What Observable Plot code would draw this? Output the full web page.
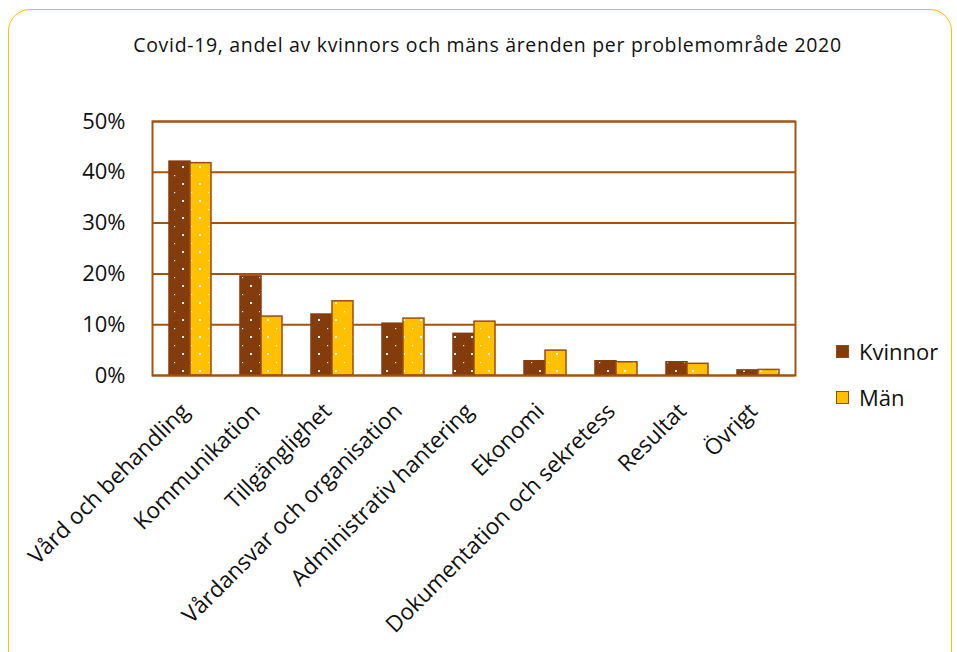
<!DOCTYPE html>
<html>
<head>
<meta charset="utf-8">
<script src="https://cdn.jsdelivr.net/npm/d3@7"></script>
<script src="https://cdn.jsdelivr.net/npm/@observablehq/plot@0.6"></script>
<style>
  html, body { margin: 0; padding: 0; background: #fff; }
  #wrap { position: relative; width: 957px; height: 652px; overflow: hidden; font-family: "Open Sans", sans-serif; }
  #border { position: absolute; left: 8px; top: 9px; width: 944px; height: 700px; border: 1.5px solid #FFC000; border-radius: 22px; box-sizing: border-box; }
  #title { position: absolute; left: 0; top: 31px; width: 975px; text-align: center; font-size: 19.5px; letter-spacing: 0.68px; color: #111; }
  #chart { position: absolute; left: 0; top: 0; }
  .leg { position: absolute; left: 836px; font-size: 22px; color: #111; display: flex; align-items: center; }
  .sw { width: 13px; height: 13px; box-sizing: border-box; margin-right: 10px; border: 1.5px solid #9A4A14; }
</style>
</head>
<body>
<div id="wrap">
  <div id="border"></div>
  <div id="chart"></div>
  <div id="title">Covid-19, andel av kvinnors och mäns ärenden per problemområde 2020</div>
  <div class="leg" style="top:336px"><div class="sw" style="background:#843C0C"></div>Kvinnor</div>
  <div class="leg" style="top:382px"><div class="sw" style="background:#FFC000"></div>Män</div>
</div>
<script>
const categories = ["Vård och behandling", "Kommunikation", "Tillgänglighet", "Vårdansvar och organisation", "Administrativ hantering", "Ekonomi", "Dokumentation och sekretess", "Resultat", "Övrigt"];
const kvinnor = [42.1, 19.5, 12.0, 10.2, 8.2, 2.8, 2.8, 2.6, 1.0];
const man = [41.8, 11.6, 14.6, 11.2, 10.6, 4.9, 2.6, 2.3, 1.1];
const yTicks = [0, 10, 20, 30, 40, 50];

const dataK = categories.map((c, i) => ({cat: c, value: kvinnor[i]}));
const dataM = categories.map((c, i) => ({cat: c, value: man[i]}));

const brown = "#843C0C";
const gold = "#FFC000";
const line = "#A5520F";

const chart = Plot.plot({
  width: 957,
  height: 652,
  marginLeft: 152,
  marginRight: 162,
  marginTop: 121,
  marginBottom: 277,
  style: {fontFamily: "Open Sans, sans-serif", fontSize: "22.5px", color: "#111", background: "transparent"},
  x: {domain: categories, paddingInner: 0.41, paddingOuter: 0.205, label: null, tickSize: 0, tickRotate: -45, tickPadding: 32},
  y: {domain: [0, 50], ticks: yTicks, label: null, tickSize: 0, tickPadding: 27, tickFormat: d => d + "%"},
  marks: [
    Plot.ruleY(yTicks, {stroke: line, strokeWidth: 2}),
    Plot.barY(dataK, {x: "cat", y: "value", fill: "url(#patK)", stroke: brown, strokeWidth: 1.5, insetRight: 21}),
    Plot.barY(dataM, {x: "cat", y: "value", fill: "url(#patM)", stroke: "#9A4A14", strokeWidth: 1.5, insetLeft: 21}),
    Plot.frame({stroke: line, strokeWidth: 2, fill: "none"})
  ]
});

// y tick labels slightly smaller
chart.querySelectorAll("g[aria-label='y-axis tick label'] text").forEach(t => t.setAttribute("font-size", "22"));
// nudge x tick labels left a little
chart.querySelectorAll("g[aria-label='x-axis tick label']").forEach(g => {
  const wrapG = document.createElementNS("http://www.w3.org/2000/svg", "g");
  wrapG.setAttribute("transform", "translate(-5,0)");
  g.parentNode.insertBefore(wrapG, g);
  wrapG.appendChild(g);
});

// patterns for dotted bar fills
const ns = "http://www.w3.org/2000/svg";
const defs = document.createElementNS(ns, "defs");
defs.innerHTML = `
<pattern id="patK" patternUnits="userSpaceOnUse" width="17" height="17" x="0" y="0">
  <rect width="17" height="17" fill="${brown}"/>
  <rect x="4" y="5" width="1.2" height="1.2" fill="#fff"/>
  <rect x="12" y="13" width="2" height="2" fill="#fff"/>
</pattern>
<pattern id="patM" patternUnits="userSpaceOnUse" width="17" height="17" x="0" y="0">
  <rect width="17" height="17" fill="${gold}"/>
  <rect x="4" y="5" width="1.2" height="1.2" fill="#fff"/>
  <rect x="12" y="13" width="2" height="2" fill="#fff"/>
</pattern>`;
chart.insertBefore(defs, chart.firstChild);
document.getElementById("chart").appendChild(chart);
</script>
</body>
</html>
